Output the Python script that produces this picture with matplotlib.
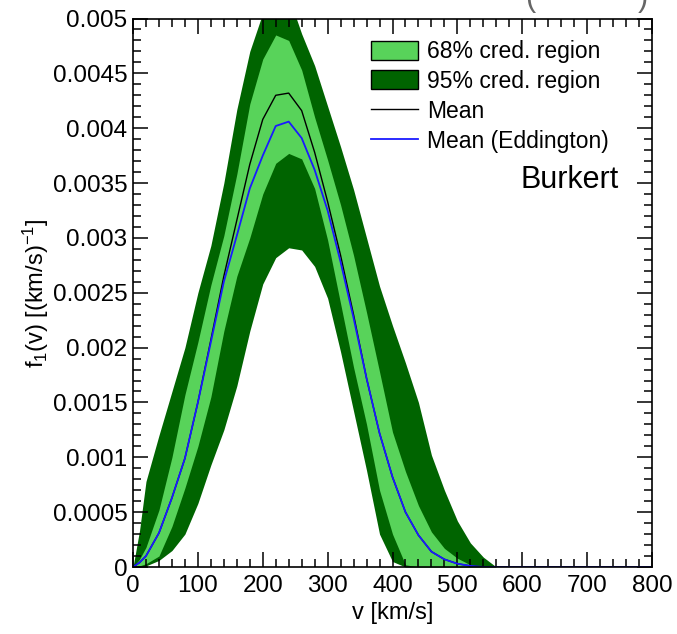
import matplotlib
matplotlib.use("Agg")
import matplotlib.pyplot as plt
from matplotlib.lines import Line2D
from matplotlib.patches import Patch
from matplotlib.ticker import MultipleLocator

# speed grid [km/s] and the curves
v = [0, 10, 20, 40, 60, 80, 100, 120, 140, 160, 180, 200, 220, 240, 260, 280, 300,
     320, 340, 360, 380, 400, 420, 440, 460, 480, 500, 520, 540, 560, 600, 700, 800]

upper_95 = [0, 0.00033, 0.00078, 0.0012, 0.0016, 0.0020, 0.0025, 0.00293, 0.0035, 0.00417,
            0.0047, 0.00505, 0.0053, 0.0052, 0.00486, 0.00457, 0.0042, 0.00383, 0.00344, 0.0030,
            0.00256, 0.0022, 0.00186, 0.0015, 0.00102, 0.0007, 0.00042, 0.00022, 0.00009, 0, 0, 0, 0]
lower_95 = [0, 0, 0.00001, 0.00006, 0.00015, 0.0003, 0.00058, 0.00093, 0.00125, 0.00165,
            0.00215, 0.00258, 0.00282, 0.00291, 0.00289, 0.00274, 0.00245, 0.00196, 0.00142, 0.00088,
            0.0003, 0.00005, 0, 0, 0, 0, 0, 0, 0, 0, 0, 0, 0]
upper_68 = [0, 0.00007, 0.00018, 0.00052, 0.001, 0.00157, 0.00205, 0.00257, 0.00302, 0.00358,
            0.00422, 0.00463, 0.00485, 0.0048, 0.00453, 0.0041, 0.00371, 0.0033, 0.00284, 0.00232,
            0.00178, 0.00123, 0.00087, 0.00056, 0.00032, 0.00017, 0.00008, 0.00002, 0, 0, 0, 0, 0]
lower_68 = [0, 0.00001, 0.00003, 0.0001, 0.00037, 0.00072, 0.0011, 0.00155, 0.00215, 0.00265,
            0.003, 0.0034, 0.00368, 0.00377, 0.00372, 0.00345, 0.00298, 0.0024, 0.00182, 0.0013,
            0.0007, 0.0003, 0.00002, 0, 0, 0, 0, 0, 0, 0, 0, 0, 0]
mean = [0, 0.00004, 0.0001, 0.00031, 0.00063, 0.00099, 0.0015, 0.00207, 0.00265, 0.00316,
        0.00367, 0.00408, 0.0043, 0.00432, 0.00416, 0.00378, 0.00333, 0.00284, 0.0023, 0.00172,
        0.00122, 0.00082, 0.0005, 0.00029, 0.00014, 0.00007, 0.00003, 0.00001, 0, 0, 0, 0, 0]
mean_edd = [0, 0.00004, 0.0001, 0.00031, 0.00063, 0.00099, 0.0015, 0.00205, 0.0026, 0.00302,
            0.00345, 0.00375, 0.00402, 0.00406, 0.00391, 0.00362, 0.00325, 0.00278, 0.00227, 0.00172,
            0.00122, 0.00082, 0.0005, 0.00029, 0.00014, 0.00007, 0.00003, 0.00001, 0, 0, 0, 0, 0]

x_ticks = [0, 100, 200, 300, 400, 500, 600, 700, 800]
y_ticks = [0, 0.0005, 0.001, 0.0015, 0.002, 0.0025, 0.003, 0.0035, 0.004, 0.0045, 0.005]
y_tick_labels = ["0", "0.0005", "0.001", "0.0015", "0.002", "0.0025", "0.003",
                 "0.0035", "0.004", "0.0045", "0.005"]
legend_labels = ["68% cred. region", "95% cred. region", "Mean", "Mean (Eddington)"]

LIGHT = "#58d35a"
DARK = "#006400"
BLUE = "#1a1aff"

plt.rcParams["font.family"] = ["Liberation Sans", "DejaVu Sans"]
plt.rcParams["mathtext.fontset"] = "custom"
plt.rcParams["mathtext.rm"] = "Liberation Sans"
plt.rcParams["mathtext.default"] = "regular"

W, H = 677, 634
fig = plt.figure(figsize=(W / 100, H / 100), dpi=100)
ax = fig.add_axes([133 / W, 1 - 567 / H, (652 - 133) / W, (567 - 18.5) / H])

ax.fill_between(v, lower_95, upper_95, color=DARK, linewidth=0)
ax.fill_between(v, lower_68, upper_68, color=LIGHT, linewidth=0)
ax.plot(v, mean, color="black", linewidth=1.0)
ax.plot(v, mean_edd, color=BLUE, linewidth=1.3)

ax.set_xlim(0, 800)
ax.set_ylim(0, 0.005)
ax.set_xticks(x_ticks)
ax.set_xticklabels([str(t) for t in x_ticks])
ax.set_yticks(y_ticks)
ax.set_yticklabels(y_tick_labels)
ax.xaxis.set_minor_locator(MultipleLocator(20))
ax.yaxis.set_minor_locator(MultipleLocator(0.0001))

ax.tick_params(which="both", direction="in", top=True, right=True, width=1.1)
ax.tick_params(which="major", length=11, labelsize=17.5)
ax.tick_params(which="minor", length=5.5)
ax.tick_params(axis="x", which="major", pad=6)
ax.tick_params(axis="y", which="major", pad=4)
for s in ax.spines.values():
    s.set_linewidth(1.2)

ax.set_xlabel("v [km/s]", fontsize=17, labelpad=3)
ax.set_ylabel("f$_1$(v) [(km/s)$^{-1}$]", fontsize=17, labelpad=1)

handles = [
    Patch(facecolor=LIGHT, edgecolor="black", linewidth=1.0),
    Patch(facecolor=DARK, edgecolor="black", linewidth=1.0),
    Line2D([], [], color="black", linewidth=1.0),
    Line2D([], [], color=BLUE, linewidth=1.3),
]
ax.legend(handles, legend_labels, loc="upper left", bbox_to_anchor=(371 / W, 1 - 40 / H),
          bbox_transform=fig.transFigure, frameon=False, fontsize=16.5, borderpad=0,
          borderaxespad=0, handlelength=2.05, handleheight=0.9, handletextpad=0.4,
          labelspacing=0.3)

ax.text(619 / W, 1 - 180 / H, "Burkert", transform=fig.transFigure, fontsize=22,
        ha="right", va="center")

# bits of a cut-off title above the frame
fig.text(530 / W, 1 - 6 / H, "(", fontsize=22, color="#666666", ha="center", va="baseline")
fig.text(643 / W, 1 - 6 / H, ")", fontsize=22, color="#666666", ha="center", va="baseline")

fig.savefig("out.png", dpi=100)
